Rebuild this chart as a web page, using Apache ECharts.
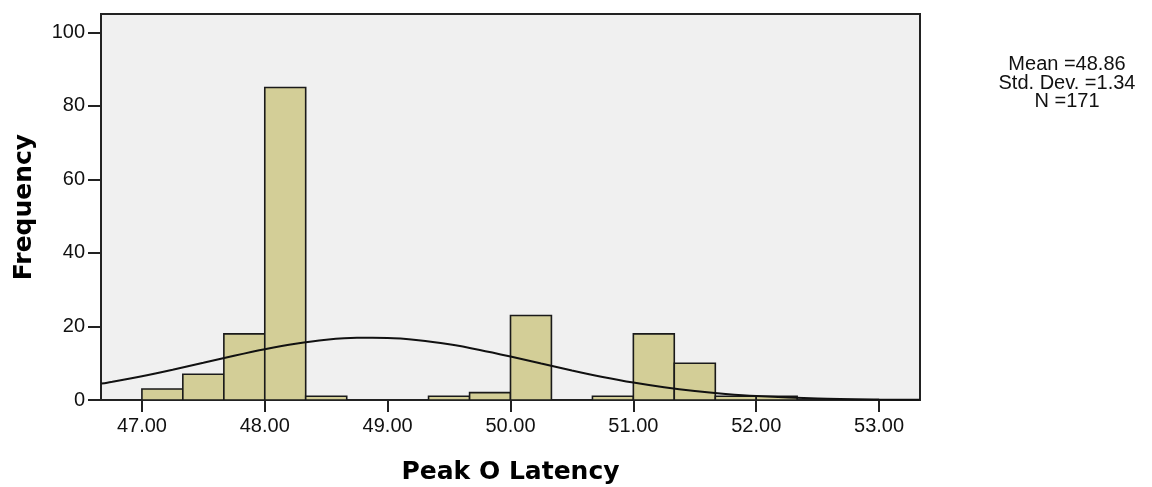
<!DOCTYPE html>
<html><head><meta charset="utf-8">
<script src="https://cdn.jsdelivr.net/npm/echarts@6/dist/echarts.min.js"></script>
<style>html,body{margin:0;padding:0;background:#fff}#c{width:1152px;height:487px}</style>
</head><body><div id="c"></div>
<script>
// Histogram bins (edges) and frequencies
const binEdges = [47.0, 47.333, 47.667, 48.0, 48.333, 48.667, 49.0, 49.333, 49.667, 50.0, 50.333, 50.667, 51.0, 51.333, 51.667, 52.0, 52.333];
const counts   = [3, 7, 18, 85, 1, 0, 0, 1, 2, 23, 0, 1, 18, 10, 1, 1];
// Normal curve points
const curveX = [46.67, 46.75, 47.0, 47.25, 47.5, 47.75, 48.0, 48.25, 48.5, 48.75, 49.0, 49.25, 49.5, 49.75, 50.0, 50.25, 50.5, 50.75, 51.0, 51.25, 51.5, 51.75, 52.0, 52.5, 53.0, 53.33];
const curveY = [4.46, 4.91, 6.48, 8.25, 10.14, 12.04, 13.81, 15.30, 16.37, 16.91, 16.88, 16.27, 15.14, 13.61, 11.82, 9.91, 8.03, 6.28, 4.74, 3.46, 2.44, 1.66, 1.09, 0.42, 0.14, 0.07];
const xTicks = [47, 48, 49, 50, 51, 52, 53];
const yTicks = [0, 20, 40, 60, 80, 100];
const statsLines = ['Mean =48.86', 'Std. Dev. =1.34', 'N =171'];
const xTitle = 'Peak O Latency';
const yTitle = 'Frequency';

const barData = [];
for (let i = 0; i < counts.length; i++) {
  if (counts[i] > 0) barData.push([binEdges[i], binEdges[i + 1], counts[i]]);
}
const curveData = curveX.map((x, i) => [x, curveY[i]]);

const chart = echarts.init(document.getElementById('c'), null, {renderer: 'canvas'});
const labelFont = {fontFamily: '"Liberation Sans", Arial, sans-serif', fontSize: 20, color: '#111'};
const titleFont = {fontFamily: '"DejaVu Sans", Verdana, sans-serif', fontWeight: 'bold', fontSize: 25, color: '#000'};

chart.setOption({
  animation: false,
  backgroundColor: '#fff',
  grid: {left: 101, right: 232, top: 14, bottom: 87, containLabel: false, outerBoundsMode: 'none',
    show: true, backgroundColor: '#f0f0f0', borderColor: '#222', borderWidth: 2},
  xAxis: {
    type: 'value', min: 46.667, max: 53.333,
    name: xTitle, nameLocation: 'middle', nameGap: 60, nameTextStyle: titleFont,
    axisLine: {show: true, onZero: false, lineStyle: {color: '#222', width: 2}},
    axisTick: {show: true, length: 12, customValues: xTicks, lineStyle: {color: '#222', width: 2}},
    axisLabel: Object.assign({customValues: xTicks, margin: 16, formatter: v => Number(v).toFixed(2)}, labelFont),
    splitLine: {show: false}
  },
  yAxis: {
    type: 'value', min: 0, max: 105,
    name: yTitle, nameLocation: 'middle', nameGap: 64, nameTextStyle: titleFont,
    axisLine: {show: true, lineStyle: {color: '#222', width: 2}},
    axisTick: {show: true, length: 13, customValues: yTicks, lineStyle: {color: '#222', width: 2}},
    axisLabel: Object.assign({customValues: yTicks, margin: 16}, labelFont),
    splitLine: {show: false}
  },
  graphic: [{
    type: 'text', x: 1067, y: 83,
    style: {text: statsLines.join('\n'), align: 'center', verticalAlign: 'middle', fontSize: 20, fontFamily: '"Liberation Sans", Arial, sans-serif', lineHeight: 18.5, fill: '#111'}
  }],
  series: [{
    type: 'custom',
    data: barData,
    encode: {x: [0, 1], y: 2},
    clip: true,
    renderItem: function (params, api) {
      const p0 = api.coord([api.value(0), api.value(2)]);
      const p1 = api.coord([api.value(1), 0]);
      return {type: 'rect', shape: {x: p0[0], y: p0[1], width: p1[0] - p0[0], height: p1[1] - p0[1]},
        style: {fill: '#d3ce97', stroke: '#1a1a1a', lineWidth: 1.6}};
    },
    z: 2
  }, {
    type: 'line', data: curveData, smooth: 0.3, symbol: 'none', clip: true,
    lineStyle: {color: '#111', width: 2}, z: 3
  }]
});
</script>
</body></html>
